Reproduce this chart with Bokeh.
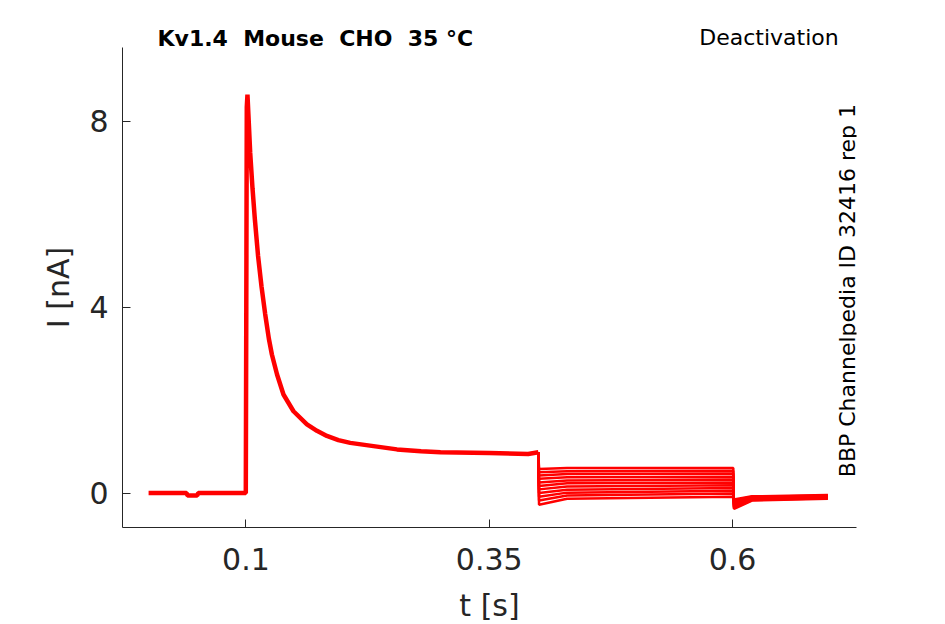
import math
from bokeh.plotting import figure
from bokeh.layouts import column
from bokeh.models import Label, FixedTicker, Range1d
from bokeh.embed import file_html
from bokeh.resources import INLINE

# part shared by every sweep: holding, step to depolarised level, inactivating current
pulse_t = [0.0, 0.039, 0.040, 0.050, 0.051, 0.0999, 0.1004, 0.1009, 0.1016,
           0.1030, 0.1044, 0.1068, 0.1092, 0.1125, 0.1160, 0.1198, 0.1236,
           0.1267, 0.1320, 0.1386, 0.1489, 0.1627, 0.1730, 0.1832, 0.1950,
           0.2072, 0.2311, 0.2552, 0.28, 0.30, 0.35, 0.39, 0.4005]
pulse_i = [0.0, 0.0, -0.05, -0.05, 0.0, 0.0, 4.0, 8.3, 8.57,
           7.95, 7.32, 6.55, 5.89, 5.10, 4.45, 3.85, 3.32,
           2.98, 2.55, 2.12, 1.76, 1.48, 1.34, 1.23, 1.14,
           1.08, 1.01, 0.94, 0.90, 0.88, 0.86, 0.84, 0.88]

# deactivation steps, one value per sweep (nA)
tail_t = [0.4012, 0.43, 0.6008, 0.6015, 0.62, 0.698]
step_onset = [0.52, 0.45, 0.38, 0.31, 0.23, 0.15, 0.08, 0.0, -0.08, -0.16, -0.25]
step_level = [0.54, 0.47, 0.41, 0.34, 0.27, 0.21, 0.14, 0.07, 0.01, -0.05, -0.12]
step_end = [0.54, 0.48, 0.42, 0.35, 0.29, 0.23, 0.17, 0.11, 0.05, -0.01, -0.08]
post_onset = [-0.34, -0.32, -0.30, -0.28, -0.26, -0.24, -0.22, -0.20, -0.18, -0.16, -0.14]
post_mid = [-0.16, -0.15, -0.14, -0.14, -0.13, -0.12, -0.11, -0.10, -0.09, -0.08, -0.07]
post_end = [-0.12, -0.11, -0.10, -0.10, -0.09, -0.08, -0.08, -0.07, -0.06, -0.05, -0.04]

x_ticks = [0.1, 0.35, 0.6]
x_tick_labels = ["0.1", "0.35", "0.6"]
y_ticks = [0, 4, 8]

# header strip holding the two top texts; its frame lines up with the plot frame
head = figure(frame_width=734, frame_height=47, output_backend="svg",
              toolbar_location=None,
              x_range=Range1d(122, 856), y_range=Range1d(47, 0),
              x_axis_location=None, y_axis_location=None,
              min_border_left=122, min_border_right=81,
              min_border_top=0, min_border_bottom=0)
head.outline_line_color = None
head.grid.visible = False
head.add_layout(Label(x=157, y=37.5, text="Kv1.4 \u00a0Mouse \u00a0CHO \u00a035 °C",
                      text_font="DejaVu Sans", text_font_size="22px",
                      text_font_style="bold", text_color="black",
                      text_align="left", text_baseline="alphabetic"))
head.add_layout(Label(x=838.2, y=36.5, text="Deactivation",
                      text_font="DejaVu Sans", text_font_size="22px",
                      text_color="black", text_align="right",
                      text_baseline="alphabetic"))

p = figure(frame_width=734, frame_height=480, output_backend="svg",
           toolbar_location=None,
           x_range=Range1d(-0.0268, 0.7274), y_range=Range1d(-0.74, 9.583),
           min_border_left=122, min_border_right=81, min_border_top=0,
           min_border_bottom=60)
p.outline_line_color = None
p.grid.visible = False
p.background_fill_color = "white"
p.border_fill_color = "white"

red = "#ff0000"
p.line(pulse_t, pulse_i, line_color=red, line_width=4.5)
for k in range(len(step_level)):
    ys = [step_onset[k], step_level[k], step_end[k], post_onset[k], post_mid[k], post_end[k]]
    p.line([pulse_t[-1]] + tail_t, [pulse_i[-1]] + ys, line_color=red, line_width=2.5)

# axes
for ax in (p.xaxis[0], p.yaxis[0]):
    ax.axis_line_color = "#262626"
    ax.major_tick_line_color = "#262626"
    ax.minor_tick_line_color = None
    ax.major_tick_in = 8
    ax.major_tick_out = 0
    ax.major_label_text_font = "DejaVu Sans"
    ax.major_label_text_font_size = "30px"
    ax.major_label_text_color = "#262626"
    ax.axis_label_text_font = "DejaVu Sans"
    ax.axis_label_text_font_size = "30px"
    ax.axis_label_text_font_style = "normal"
    ax.axis_label_text_color = "#262626"

p.xaxis.ticker = FixedTicker(ticks=x_ticks)
p.xaxis.major_label_overrides = dict(zip(x_ticks, x_tick_labels))
p.yaxis.ticker = FixedTicker(ticks=y_ticks)
p.xaxis.axis_label = "t [s]"
p.yaxis.axis_label = "I [nA]"
p.xaxis.major_label_standoff = 20
p.yaxis.major_label_standoff = 14
p.xaxis.axis_label_standoff = 15
p.yaxis.axis_label_standoff = 10

# vertical id text just inside the right edge of the frame
p.add_layout(Label(x=725.2, y=50.3, x_units="screen", y_units="screen",
                   text="BBP Channelpedia ID 32416 rep 1",
                   angle=math.pi / 2, text_font="DejaVu Sans",
                   text_font_size="22px", text_color="black",
                   text_align="left", text_baseline="alphabetic"))

layout = column(head, p, spacing=0)
open("out.html", "w").write(file_html(layout, INLINE))
